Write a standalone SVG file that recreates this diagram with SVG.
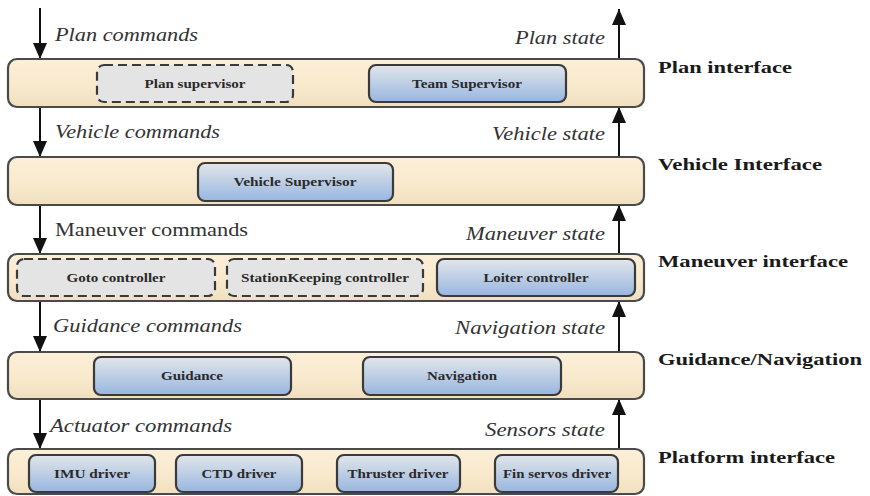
<svg xmlns="http://www.w3.org/2000/svg" width="870" height="496" viewBox="0 0 870 496" font-family="Liberation Serif, Times New Roman, serif">
<defs>
<linearGradient id="gLayer" x1="0" y1="0" x2="0" y2="1">
<stop offset="0" stop-color="#fcefd8"/>
<stop offset="0.6" stop-color="#f9e9cc"/>
<stop offset="1" stop-color="#efdfbf"/>
</linearGradient>
<linearGradient id="gBlue" x1="0" y1="0" x2="0" y2="1">
<stop offset="0" stop-color="#e2e6ea"/>
<stop offset="1" stop-color="#98b6e0"/>
</linearGradient>
<marker id="ah" markerUnits="userSpaceOnUse" markerWidth="16" markerHeight="16" viewBox="0 0 16 16" refX="16" refY="8" orient="auto">
<path d="M0,1 L16,8 L0,15 Z" fill="#111"/>
</marker>
<style>
.layer{fill:url(#gLayer);stroke:#4a4a4a;stroke-width:2.2}
.solid{fill:url(#gBlue);stroke:#3a3a3a;stroke-width:2.2}
.dash{fill:#e4e4e4;stroke:#3a3a3a;stroke-width:2.2;stroke-dasharray:9 5}
.bl{font-weight:bold;font-size:12px;fill:#2a2a2a;text-anchor:middle}
.lab{font-style:italic;font-size:18px;fill:#333}
.labr{font-size:18px;fill:#333}
.side{font-weight:bold;font-size:17px;fill:#1a1a1a}
.conn{stroke:#111;stroke-width:2;fill:none}
</style>
</defs>
<rect width="870" height="496" fill="#ffffff"/>

<g id="connectors">
<line class="conn" x1="40" y1="8" x2="40" y2="59" marker-end="url(#ah)"/>
<line class="conn" x1="40" y1="107" x2="40" y2="157" marker-end="url(#ah)"/>
<line class="conn" x1="40" y1="205" x2="40" y2="254" marker-end="url(#ah)"/>
<line class="conn" x1="40" y1="301" x2="40" y2="352" marker-end="url(#ah)"/>
<line class="conn" x1="40" y1="399" x2="40" y2="449" marker-end="url(#ah)"/>
<line class="conn" x1="619" y1="59" x2="619" y2="9" marker-end="url(#ah)"/>
<line class="conn" x1="619" y1="157" x2="619" y2="107" marker-end="url(#ah)"/>
<line class="conn" x1="619" y1="254" x2="619" y2="205" marker-end="url(#ah)"/>
<line class="conn" x1="619" y1="352" x2="619" y2="301" marker-end="url(#ah)"/>
<line class="conn" x1="619" y1="449" x2="619" y2="399" marker-end="url(#ah)"/>
<text class="lab" x="55" y="41" textLength="143" lengthAdjust="spacingAndGlyphs">Plan commands</text>
<text class="lab" x="515" y="44" textLength="90" lengthAdjust="spacingAndGlyphs">Plan state</text>
<text class="lab" x="55" y="138" textLength="165" lengthAdjust="spacingAndGlyphs">Vehicle commands</text>
<text class="lab" x="492" y="140" textLength="113" lengthAdjust="spacingAndGlyphs">Vehicle state</text>
<text class="labr" x="55" y="236" textLength="193" lengthAdjust="spacingAndGlyphs">Maneuver commands</text>
<text class="lab" x="466" y="240" textLength="139" lengthAdjust="spacingAndGlyphs">Maneuver state</text>
<text class="lab" x="53" y="332" textLength="189" lengthAdjust="spacingAndGlyphs">Guidance commands</text>
<text class="lab" x="455" y="334" textLength="150" lengthAdjust="spacingAndGlyphs">Navigation state</text>
<text class="lab" x="50" y="432" textLength="182" lengthAdjust="spacingAndGlyphs">Actuator commands</text>
<text class="lab" x="485" y="436" textLength="120" lengthAdjust="spacingAndGlyphs">Sensors state</text>
</g>

<g id="plan-interface">
<rect class="layer" x="8" y="59" width="636" height="48" rx="9"/>
<text class="side" x="658" y="73" textLength="134" lengthAdjust="spacingAndGlyphs">Plan interface</text>
</g>
<g id="plan-supervisor">
<rect class="dash" x="97" y="65" width="196" height="37" rx="7"/>
<text class="bl" x="195" y="88" textLength="101" lengthAdjust="spacingAndGlyphs">Plan supervisor</text>
</g>
<g id="team-supervisor">
<rect class="solid" x="369" y="65" width="197" height="37" rx="7"/>
<text class="bl" x="467" y="88" textLength="110" lengthAdjust="spacingAndGlyphs">Team Supervisor</text>
</g>

<g id="vehicle-interface">
<rect class="layer" x="8" y="157" width="636" height="48" rx="9"/>
<text class="side" x="658" y="170" textLength="164" lengthAdjust="spacingAndGlyphs">Vehicle Interface</text>
</g>
<g id="vehicle-supervisor">
<rect class="solid" x="198" y="163" width="195" height="38" rx="7"/>
<text class="bl" x="295" y="186" textLength="123" lengthAdjust="spacingAndGlyphs">Vehicle Supervisor</text>
</g>

<g id="maneuver-interface">
<rect class="layer" x="8" y="254" width="636" height="47" rx="9"/>
<text class="side" x="658" y="267" textLength="190" lengthAdjust="spacingAndGlyphs">Maneuver interface</text>
</g>
<g id="goto-controller">
<rect class="dash" x="17" y="259" width="198" height="37" rx="7"/>
<text class="bl" x="116" y="282" textLength="99" lengthAdjust="spacingAndGlyphs">Goto controller</text>
</g>
<g id="stationkeeping-controller">
<rect class="dash" x="227" y="259" width="196" height="37" rx="7"/>
<text class="bl" x="325" y="282" textLength="168" lengthAdjust="spacingAndGlyphs">StationKeeping controller</text>
</g>
<g id="loiter-controller">
<rect class="solid" x="437" y="259" width="198" height="37" rx="7"/>
<text class="bl" x="536" y="282" textLength="105" lengthAdjust="spacingAndGlyphs">Loiter controller</text>
</g>

<g id="guidance-navigation">
<rect class="layer" x="8" y="352" width="636" height="47" rx="9"/>
<text class="side" x="658" y="365" textLength="204" lengthAdjust="spacingAndGlyphs">Guidance/Navigation</text>
</g>
<g id="guidance">
<rect class="solid" x="94" y="357" width="197" height="38" rx="7"/>
<text class="bl" x="192" y="380" textLength="62" lengthAdjust="spacingAndGlyphs">Guidance</text>
</g>
<g id="navigation">
<rect class="solid" x="363" y="357" width="198" height="38" rx="7"/>
<text class="bl" x="462" y="380" textLength="70" lengthAdjust="spacingAndGlyphs">Navigation</text>
</g>

<g id="platform-interface">
<rect class="layer" x="8" y="449" width="636" height="45" rx="9"/>
<text class="side" x="658" y="463" textLength="177" lengthAdjust="spacingAndGlyphs">Platform interface</text>
</g>
<g id="imu-driver">
<rect class="solid" x="29" y="455" width="126" height="37" rx="7"/>
<text class="bl" x="92" y="478" textLength="76" lengthAdjust="spacingAndGlyphs">IMU driver</text>
</g>
<g id="ctd-driver">
<rect class="solid" x="176" y="455" width="126" height="37" rx="7"/>
<text class="bl" x="239" y="478" textLength="75" lengthAdjust="spacingAndGlyphs">CTD driver</text>
</g>
<g id="thruster-driver">
<rect class="solid" x="337" y="455" width="123" height="37" rx="7"/>
<text class="bl" x="398" y="478" textLength="101" lengthAdjust="spacingAndGlyphs">Thruster driver</text>
</g>
<g id="fin-servos-driver">
<rect class="solid" x="495" y="455" width="123" height="37" rx="7"/>
<text class="bl" x="557" y="478" textLength="108" lengthAdjust="spacingAndGlyphs">Fin servos driver</text>
</g>
</svg>
